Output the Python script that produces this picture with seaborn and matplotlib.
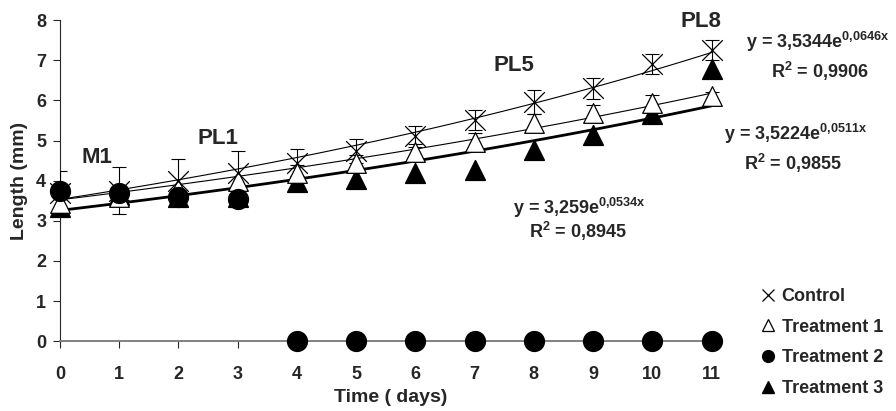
import matplotlib
matplotlib.use("Agg")
import matplotlib.pyplot as plt
from matplotlib.lines import Line2D
import seaborn as sns
import numpy as np
import pandas as pd

days = list(range(12))
control = [3.7, 3.75, 4.0, 4.2, 4.45, 4.75, 5.1, 5.5, 5.95, 6.3, 6.9, 7.25]
control_err = [0.55, 0.58, 0.55, 0.55, 0.33, 0.3, 0.25, 0.25, 0.3, 0.27, 0.25, 0.25]
treat1 = [3.45, 3.6, 3.8, 4.0, 4.2, 4.45, 4.72, 4.97, 5.43, 5.68, 5.93, 6.1]
treat1_err = [0.2, 0.2, 0.2, 0.2, 0.2, 0.2, 0.2, 0.22, 0.22, 0.2, 0.2, 0.1]
treat2 = [3.75, 3.7, 3.6, 3.55, 0, 0, 0, 0, 0, 0, 0, 0]
treat3 = [3.35, 3.65, 3.6, 3.6, 3.97, 4.05, 4.2, 4.26, 4.76, 5.13, 5.65, 6.78]

# exponential fits (as printed on the chart)
fits = {"Control": (3.5344, 0.0646), "Treatment 1": (3.5224, 0.0511), "Treatment 3": (3.259, 0.0534)}

sns.set_style("ticks")
plt.rcParams['font.family'] = ['Liberation Sans', 'DejaVu Sans']
plt.rcParams['font.weight'] = 'bold'
plt.rcParams['mathtext.fontset'] = 'custom'
plt.rcParams['mathtext.rm'] = 'Liberation Sans:bold'
plt.rcParams['mathtext.bf'] = 'Liberation Sans:bold'
plt.rcParams['mathtext.default'] = 'bf'

fig = plt.figure(figsize=(8.96, 4.11), dpi=100)
ax = fig.add_axes([0.067, 0.170, 0.737, 0.781])

# trend lines
xs = np.linspace(0, 11, 50)
for name, (a, b) in fits.items():
    lw = 2.0 if name == "Treatment 3" else 0.8
    sns.lineplot(x=xs, y=a * np.exp(b * xs), color="black", lw=lw, ax=ax, zorder=2)

# error bars
ax.errorbar(days, control, yerr=control_err, fmt="none", ecolor="black", elinewidth=0.8, capsize=5, capthick=0.8, zorder=3)
ax.errorbar(days[4:], treat1[4:], yerr=treat1_err[4:], fmt="none", ecolor="black", elinewidth=0.8, capsize=5, capthick=0.8, zorder=3)

df = pd.DataFrame({"day": days, "Control": control, "Treatment 1": treat1,
                   "Treatment 2": treat2, "Treatment 3": treat3})

sns.scatterplot(data=df, x="day", y="Treatment 3", marker="^", s=200, color="black", edgecolor="black", ax=ax, zorder=4, clip_on=False)
sns.scatterplot(data=df, x="day", y="Treatment 1", marker="^", s=200, facecolor="white", edgecolor="black", linewidth=0.9, ax=ax, zorder=5, clip_on=False)
sns.scatterplot(data=df, x="day", y="Treatment 2", marker="o", s=200, color="black", edgecolor="black", ax=ax, zorder=6, clip_on=False)
sns.scatterplot(data=df, x="day", y="Control", marker="x", s=220, color="black", linewidth=0.9, ax=ax, zorder=7, clip_on=False)

ax.set_xlim(0, 11.15)
ax.set_ylim(0, 8)
ax.set_xticks(days)
ax.set_yticks(range(9))
ax.tick_params(axis="both", labelsize=13, width=0.8, length=5)
ax.tick_params(axis="x", direction="out", pad=13)
ax.tick_params(axis="y", pad=5)
for lab in ax.get_xticklabels() + ax.get_yticklabels():
    lab.set_fontweight("bold")
sns.despine(ax=ax)
ax.spines["bottom"].set_color("#777777")
ax.spines["bottom"].set_linewidth(1.3)
ax.spines["left"].set_linewidth(0.8)

ax.set_xlabel("Time ( days)", fontsize=14, fontweight="bold", labelpad=4.5)
ax.set_ylabel("Length (mm)", fontsize=14, fontweight="bold", labelpad=6)

# stage labels
for txt, x, y in [("M1", 0.62, 4.58), ("PL1", 2.66, 5.06), ("PL5", 7.67, 6.86), ("PL8", 10.83, 7.97)]:
    ax.text(x, y, txt, fontsize=16, fontweight="bold", ha="center", va="center", clip_on=False)

# equations
eq = dict(fontsize=13, fontweight="bold", ha="center", va="center")
fig.text(818 / 896, 1 - 42 / 411, r"y = 3,5344e$^{0{,}0646x}$", **eq)
fig.text(820 / 896, 1 - 71 / 411, r"R$^{2}$ = 0,9906", **eq)
fig.text(796 / 896, 1 - 134 / 411, r"y = 3,5224e$^{0{,}0511x}$", **eq)
fig.text(793 / 896, 1 - 163 / 411, r"R$^{2}$ = 0,9855", **eq)
fig.text(579 / 896, 1 - 208 / 411, r"y = 3,259e$^{0{,}0534x}$", **eq)
fig.text(578 / 896, 1 - 231 / 411, r"R$^{2}$ = 0,8945", **eq)

handles = [
    Line2D([], [], ls="none", marker="x", ms=9, mec="black", mew=0.9, label="Control"),
    Line2D([], [], ls="none", marker="^", ms=9, mfc="white", mec="black", mew=0.9, label="Treatment 1"),
    Line2D([], [], ls="none", marker="o", ms=8.5, mfc="black", mec="black", label="Treatment 2"),
    Line2D([], [], ls="none", marker="^", ms=9, mfc="black", mec="black", label="Treatment 3"),
]
fig.legend(handles=handles, loc="upper left", bbox_to_anchor=(750 / 896, 1 - 279 / 411),
           frameon=False, prop={"size": 13, "weight": "bold"}, handletextpad=0.25,
           handlelength=1.0, labelspacing=0.76, borderpad=0)

fig.savefig("out.png", dpi=100)
